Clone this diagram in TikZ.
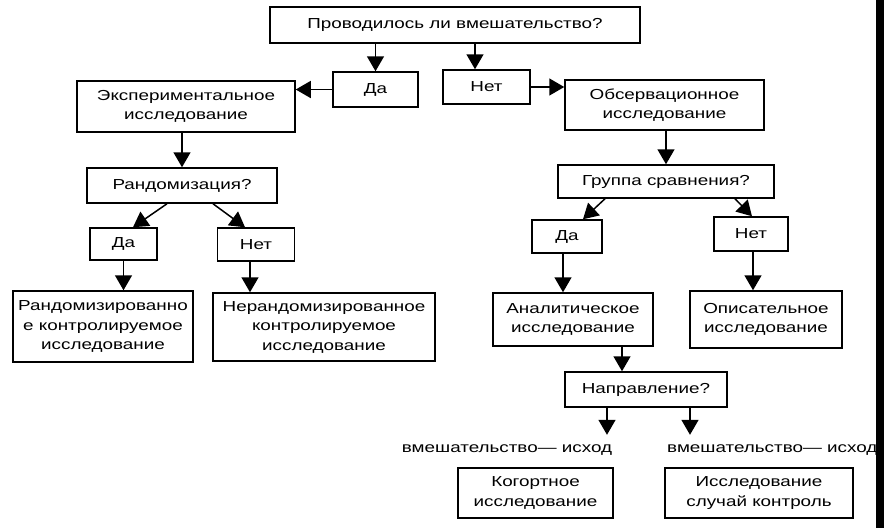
\documentclass[tikz,border=0pt]{standalone}
\usepackage{fontspec}
\setmainfont{Liberation Sans}[FakeStretch=1.3]
\usetikzlibrary{arrows.meta}
\begin{document}
\begin{tikzpicture}[x=1pt,y=-1pt,
  box/.style={draw, line width=1.5pt, inner sep=0pt, align=center,
    font=\fontsize{14.5}{19.5}\selectfont},
  lab/.style={inner sep=0pt, minimum height=30pt, font=\fontsize{14.5}{19.5}\selectfont},
  arr/.style={line width=1.5pt, -{Triangle[width=17pt,length=15pt]}}]
\fill[white] (0,0) rectangle (884,528);
\useasboundingbox (0,0) rectangle (884,528);

\node[box, minimum width=370pt, minimum height=36pt] (q1) at (455,25) {Проводилось ли вмешательство?};
\node[box, minimum width=85pt, minimum height=35pt] (da1) at (375.5,89.5) {Да};
\node[box, minimum width=87pt, minimum height=34pt] (net1) at (486.5,87) {Нет};
\node[box, minimum width=218pt, minimum height=51pt] (exp) at (186,106.5) {Экспериментальное\\исследование};
\node[box, minimum width=199pt, minimum height=50pt] (obs) at (664.5,105) {Обсервационное\\исследование};
\node[box, minimum width=190pt, minimum height=35pt] (rand) at (182,185.5) {Рандомизация?};
\node[box, minimum width=67pt, minimum height=32pt] (da2) at (123.5,244) {Да};
\node[box, minimum width=77pt, minimum height=33pt] (net2) at (256,244.5) {Нет};
\node[box, minimum width=180pt, minimum height=71pt] (rct) at (103,326.5) {Рандомизированно\\е контролируемое\\исследование};
\node[box, minimum width=222pt, minimum height=68pt] (nrct) at (324,327) {Нерандомизированное\\контролируемое\\исследование};
\node[box, minimum width=216pt, minimum height=33pt] (grp) at (666,181.5) {Группа сравнения?};
\node[box, minimum width=70pt, minimum height=33pt] (da3) at (567,236.5) {Да};
\node[box, minimum width=74pt, minimum height=34pt] (net3) at (751,234) {Нет};
\node[box, minimum width=160pt, minimum height=53pt] (anal) at (573,319.5) {Аналитическое\\исследование};
\node[box, minimum width=152pt, minimum height=57pt] (desc) at (766,319.5) {Описательное\\исследование};
\node[box, minimum width=162pt, minimum height=35pt] (dir) at (646,389.5) {Направление?};
\node[lab] (lab1) at (507,450) {вмешательство— исход};
\node[lab, anchor=west] (lab2) at (667,450) {вмешательство— исход};
\node[box, minimum width=155pt, minimum height=50pt] (coh) at (535.5,493) {Когортное\\исследование};
\node[box, minimum width=188pt, minimum height=50pt] (cc) at (759,493) {Исследование\\случай контроль};

\draw[arr] (da1.north |- q1.south) -- (da1.north);
\draw[arr] ([xshift=-11.5pt]net1.north |- q1.south) -- ([xshift=-11.5pt]net1.north);
\draw[arr] (da1.west) -- (exp.east |- da1.west);
\draw[arr] (net1.east) -- (obs.west |- net1.east);
\draw[arr] (rand.north |- exp.south) -- (rand.north);
\draw[arr] (grp.north |- obs.south) -- (grp.north);
\draw[arr] ([xshift=-15pt]rand.south) -- ([xshift=9.5pt]da2.north);
\draw[arr] ([xshift=31pt]rand.south) -- ([xshift=-11pt]net2.north);
\draw[arr] (da2.south) -- (da2.south |- rct.north);
\draw[arr] ([xshift=-6pt]net2.south) -- ([xshift=-6pt]net2.south |- nrct.north);
\draw[arr] ([xshift=-61pt]grp.south) -- ([xshift=16pt]da3.north);
\draw[arr] ([xshift=69pt]grp.south) -- ([xshift=1pt]net3.north);
\draw[arr] ([xshift=-4pt]da3.south) -- ([xshift=-4pt]da3.south |- anal.north);
\draw[arr] ([xshift=2pt]net3.south) -- ([xshift=2pt]net3.south |- desc.north);
\draw[arr] ([xshift=49pt]anal.south) -- ([xshift=49pt]anal.south |- dir.north);
\draw[arr] ([xshift=-39pt]dir.south) -- ([xshift=-39pt]dir.south |- lab1.north);
\draw[arr] ([xshift=44pt]dir.south) -- ([xshift=44pt]dir.south |- lab2.north);

\fill[black] (876,0) rectangle (884,528);
\end{tikzpicture}
\end{document}
